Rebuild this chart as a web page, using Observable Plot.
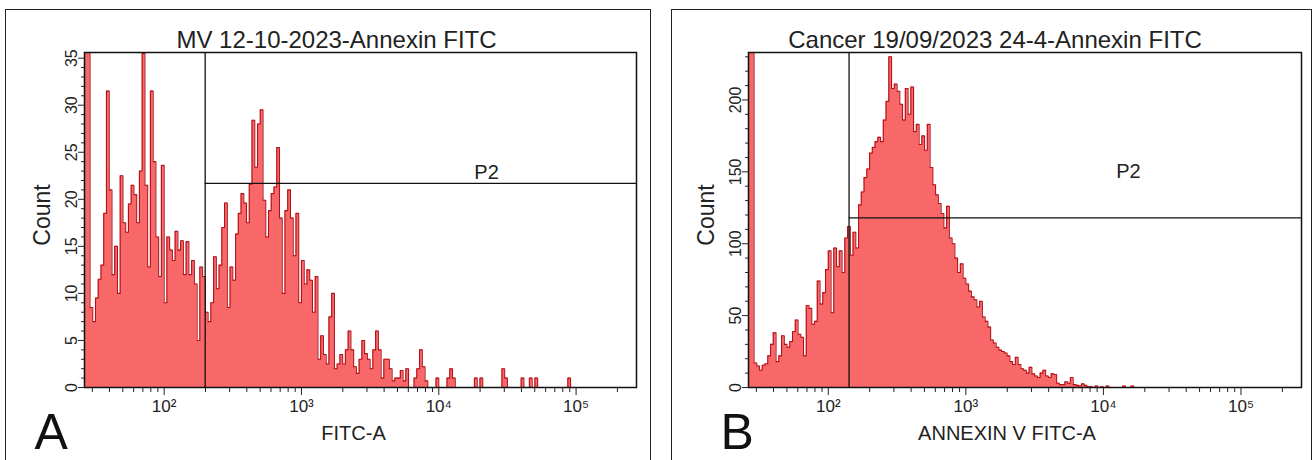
<!DOCTYPE html>
<html><head><meta charset="utf-8">
<script src="https://cdn.jsdelivr.net/npm/d3@7"></script>
<script src="https://cdn.jsdelivr.net/npm/@observablehq/plot@0.6"></script>
<style>
body{margin:0;background:#fff;width:1315px;height:460px;overflow:hidden;position:relative}
.frame{position:absolute;border:1.5px solid #222;box-sizing:border-box}
.panel{position:absolute;top:0}
</style></head><body>
<div class="frame" style="left:5px;top:9px;width:646px;height:480px"></div>
<div class="frame" style="left:671px;top:9px;width:641px;height:480px"></div>
<div id="a" class="panel" style="left:0px"></div>
<div id="b" class="panel" style="left:660px"></div>
<script>
// ---- data ----
const binLo = 1.42;      // log10 of first bin start
const binStep = 0.02;    // log10 width of each bin
const xDomain = [10 ** 1.42, 10 ** 5.44];

const titleA = "MV 12-10-2023-Annexin FITC";
const titleB = "Cancer 19/09/2023 24-4-Annexin FITC";
const xLabelA = "FITC-A";
const xLabelB = "ANNEXIN V FITC-A";
const yLabel = "Count";
const panelLetters = ["A", "B"];

const countsA = [
  40,40,8.5,7,9.5,11.5,13,18.5,31.5,21,
  12,15,10,22.5,17.5,16.5,19.5,21.5,20.5,17.5,
  23,35.5,21.5,12.8,31.5,24,16,11.8,23.6,9,
  16,14.6,13.5,16.6,14.6,15.6,12,15.5,12,13.5,
  11,5,12.8,11.8,8,7,9,13.9,10.5,13,
  17,19.6,8.5,12.8,11.4,16.3,18.5,20.6,19.6,17.5,
  21.6,28.4,23.4,28,29.5,19.9,16,18.8,20.6,21.3,
  25.5,18,10,18.8,21,18,14,18.5,9,13.5,
  11,12.5,11.4,8,11.8,3,5.5,3.5,2.5,7.5,
  10,2,2.5,3.5,2.5,4,6,4,2.2,1.5,
  3,5,3.6,3,2,4,6,4,1,3,
  3,2,0.7,1,1,1.8,0.7,2,0,0,
  1,2,4,2.2,0.7,0,0,0,1,0,
  0,0,1,2,1,0,0,0,0,0,
  0,0,1,0,1,0,0,0,0,0,
  0,0,2,1,0,0,0,0,0,1,
  0,0,1,0,1,0,0,0,0,0,
  0,0,0,0,0,0,1,0,0,0,
  0,0,0,0,0,0,0,0,0,0,
  0,0,0,0,0,0,0,0,0,0,0
];
const countsB = [
  300,300,17,15,12,15.5,16.5,22,30,38,
  18,22,36,30,28,32,39,47,37,35,
  22,57,55,44,46,74,58,66,82,95,
  52,97,84,95,80,104,112,92,108,97,
  127,136,146,152,163,167,171,174,171,186,
  199,230,208,211,206,197,186,208,190,209,
  178,183,169,175,165,183,153,141,134,128,
  121,111,126,104,100,90,80,86,76,72,
  67,63,61,56,60,49,46,42,33,31,
  28,26,25,24,22,18,16,21,16,13,
  12,10,14,9.5,8,7,10,12,8,7,
  9.5,9,3,2,2,4,3,7,2,1.5,
  1,2.5,1.5,0.5,0.5,0,1,0,0.5,0,
  1,0,0,0,0,0,1,0,0,1,
  0,0,0,0,0,0,0,0,0,0,
  0,0,0,0,0,0,0,0,0,0,
  0,0,0,0,0,0,0,0,0,0,
  0,0,0,0,0,0,0,0,0,0,
  0,0,0,0,0,0,0,0,0,0,
  0,0,0,0,0,0,0,0,0,0,0
];

const yMaxA = 35.6, yMaxB = 233;
const yMajorA = [0,5,10,15,20,25,30,35];
const yMinorA = [1,2,3,4,6,7,8,9,11,12,13,14,16,17,18,19,21,22,23,24,26,27,28,29,31,32,33,34];
const yMajorB = [0,50,100,150,200];
const yMinorB = [10,20,30,40,60,70,80,90,110,120,130,140,160,170,180,190,210,220,230];
const xMajor = [100, 1000, 10000, 100000];
const xMinor = [30,40,50,60,70,80,90,200,300,400,500,600,700,800,900,
  2000,3000,4000,5000,6000,7000,8000,9000,20000,30000,40000,50000,60000,70000,80000,90000,200000];

const gateA = {x: 199, y: 21.7};
const gateB = {x: 141.6, y: 118};
const p2A = {x: 22300, y: 22.8};
const p2B = {x: 15200, y: 150};

// ---- styles ----
const FONT = '"Liberation Sans Narrow","Liberation Sans",Arial,sans-serif';
const FILL = "#f86868";
const LINE = "#b3121a";
const sup = {2: "\u00b2", 3: "\u00b3", 4: "\u2074", 5: "\u2075"};

function toPoints(counts) {
  const pts = counts.map((c, i) => ({x: 10 ** (binLo + i * binStep), c}));
  pts.push({x: 10 ** (binLo + counts.length * binStep), c: counts[counts.length - 1]});
  return pts;
}

function panel(o) {
  const data = toPoints(o.counts);
  return Plot.plot({
    width: 655, height: 460,
    marginLeft: o.ml, marginRight: o.mr, marginTop: 52, marginBottom: 73,
    style: {fontFamily: FONT, fontSize: "16px", color: "#222", background: "transparent", overflow: "visible"},
    x: {type: "log", domain: xDomain},
    y: {domain: [0, o.ymax]},
    marks: [
      Plot.areaY(data, {x: "x", y: "c", curve: "step-after", fill: FILL, clip: true}),
      Plot.lineY(data, {x: "x", y: "c", curve: "step-after", stroke: LINE, strokeWidth: 1.1, clip: true}),
      Plot.ruleX([o.gate.x], {stroke: "#111", strokeWidth: 1.3}),
      Plot.ruleY([o.gate.y], {x1: o.gate.x, x2: xDomain[1], stroke: "#111", strokeWidth: 1.3}),
      Plot.text(["P2"], {x: () => o.p2.x, y: () => o.p2.y, fontSize: 20, fill: "#222"}),
      Plot.frame({stroke: "#111", strokeWidth: 1.5}),
      Plot.axisX(xMajor, {tickSize: 8, tickPadding: 4, tickFormat: d => "10" + sup[Math.round(Math.log10(d))], label: null, fontSize: 17}),
      Plot.axisX(xMinor, {tickSize: 5, text: null, label: null}),
      Plot.axisY(o.yMajor, {tickSize: 6, tickPadding: 2, tickRotate: -90, textAnchor: "middle", lineAnchor: "bottom", label: null, fontSize: 16}),
      Plot.axisY(o.yMinor, {tickSize: 3, text: null, label: null}),
      Plot.text([o.title], {frameAnchor: "top", lineAnchor: "middle", dx: o.titleDx, dy: -12, fontSize: 24, fill: "#222"}),
      Plot.text([o.xLabel], {frameAnchor: "bottom", lineAnchor: "middle", dx: o.xLabelDx, dy: 46, fontSize: 20, fill: "#222"}),
      Plot.text([yLabel], {frameAnchor: "left", textAnchor: "middle", lineAnchor: "middle", dx: -o.ml + o.countX, dy: -5, rotate: -90, fontSize: 23, fill: "#222"}),
      Plot.text([o.letter], {frameAnchor: "bottom-left", textAnchor: "start", lineAnchor: "middle", dx: o.letterDx, dy: 45, fontSize: 50, fill: "#111", fontFamily: '"Liberation Sans",Arial,sans-serif'})
    ]
  });
}

document.getElementById("a").append(panel({
  counts: countsA, ymax: yMaxA, yMajor: yMajorA, yMinor: yMinorA,
  gate: gateA, p2: p2A, title: titleA, xLabel: xLabelA, letter: panelLetters[0],
  ml: 84, mr: 19, letterDx: -50, countX: 42, titleDx: -24, xLabelDx: -7
}));
document.getElementById("b").append(panel({
  counts: countsB, ymax: yMaxB, yMajor: yMajorB, yMinor: yMinorB,
  gate: gateB, p2: p2B, title: titleB, xLabel: xLabelB, letter: panelLetters[1],
  ml: 88, mr: 14, letterDx: -28, countX: 46, titleDx: -30, xLabelDx: -18
}));
</script>
</body></html>
